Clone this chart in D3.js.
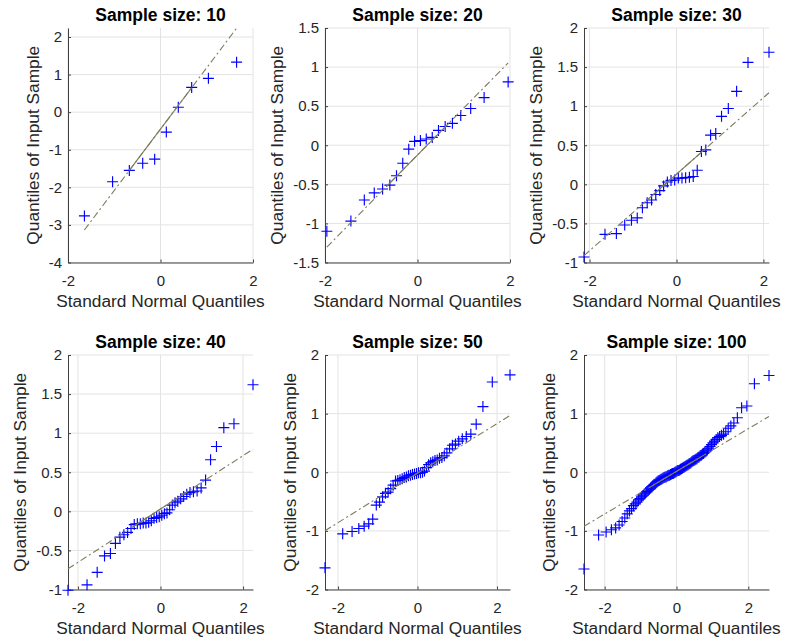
<!DOCTYPE html>
<html>
<head>
<meta charset="utf-8">
<script src="https://cdn.jsdelivr.net/npm/d3@7/dist/d3.min.js"></script>
<style>
  body { margin: 0; background: #ffffff; }
  svg { display: block; }
  text { font-family: "Liberation Sans", Arial, Helvetica, sans-serif; }
</style>
</head>
<body>
<svg id="chart" width="785" height="641"></svg>
<script>
// Normal probability (Q-Q) plots for samples of increasing size.
const sampleSizes = [10, 20, 30, 40, 50, 100];

// Theoretical standard normal quantiles (x) and sorted sample values (y)
const x10 = [-1.645, -1.036, -0.674, -0.385, -0.126, 0.126, 0.385, 0.674, 1.036, 1.645];
const y10 = [-2.76, -1.85, -1.55, -1.36, -1.25, -0.53, 0.13, 0.66, 0.90, 1.33];

const x20 = [-1.960, -1.440, -1.150, -0.935, -0.755, -0.598, -0.454, -0.319, -0.189, -0.063,
             0.063, 0.189, 0.319, 0.454, 0.598, 0.755, 0.935, 1.150, 1.440, 1.960];
const y20 = [-1.10, -0.97, -0.70, -0.61, -0.56, -0.51, -0.39, -0.23, -0.05, 0.05,
             0.06, 0.08, 0.10, 0.19, 0.24, 0.28, 0.38, 0.47, 0.61, 0.81];

const x30 = [-2.128, -1.645, -1.383, -1.192, -1.036, -0.903, -0.784, -0.674, -0.573, -0.477,
             -0.385, -0.297, -0.210, -0.126, -0.042, 0.042, 0.126, 0.210, 0.297, 0.385,
             0.477, 0.573, 0.674, 0.784, 0.903, 1.036, 1.192, 1.383, 1.645, 2.128];
const y30 = [-0.93, -0.64, -0.63, -0.52, -0.46, -0.43, -0.30, -0.235, -0.20, -0.13,
             -0.08, -0.02, 0.03, 0.05, 0.055, 0.08, 0.08, 0.085, 0.09, 0.10,
             0.18, 0.42, 0.44, 0.63, 0.65, 0.87, 0.97, 1.19, 1.56, 1.69];

const x40 = [-2.241, -1.780, -1.534, -1.356, -1.213, -1.092, -0.984, -0.887, -0.798, -0.714,
             -0.636, -0.561, -0.489, -0.419, -0.352, -0.287, -0.222, -0.157, -0.094, -0.031,
             0.031, 0.094, 0.157, 0.222, 0.287, 0.352, 0.419, 0.489, 0.561, 0.636,
             0.714, 0.798, 0.887, 0.984, 1.092, 1.213, 1.356, 1.534, 1.780, 2.241];
const y40 = [-1.01, -0.94, -0.78, -0.57, -0.54, -0.41, -0.33, -0.30, -0.27, -0.22,
             -0.17, -0.16, -0.16, -0.15, -0.15, -0.14, -0.12, -0.09, -0.08, -0.07,
             -0.05, -0.03, -0.02, 0.02, 0.08, 0.11, 0.13, 0.16, 0.19, 0.22,
             0.24, 0.25, 0.26, 0.30, 0.40, 0.66, 0.83, 1.07, 1.12, 1.62];

const x50 = [-2.326, -1.881, -1.645, -1.476, -1.341, -1.227, -1.126, -1.036, -0.954, -0.878,
             -0.806, -0.739, -0.674, -0.613, -0.553, -0.496, -0.440, -0.385, -0.332, -0.279,
             -0.228, -0.176, -0.126, -0.075, -0.025, 0.025, 0.075, 0.126, 0.176, 0.228,
             0.279, 0.332, 0.385, 0.440, 0.496, 0.553, 0.613, 0.674, 0.739, 0.806,
             0.878, 0.954, 1.036, 1.126, 1.227, 1.341, 1.476, 1.645, 1.881, 2.326];
const y50 = [-1.63, -1.05, -1.01, -0.96, -0.92, -0.88, -0.80, -0.56, -0.51, -0.42,
             -0.36, -0.34, -0.28, -0.22, -0.15, -0.14, -0.13, -0.11, -0.09, -0.08,
             -0.06, -0.05, -0.04, -0.03, -0.02, -0.01, -0.01, 0.00, 0.02, 0.08,
             0.13, 0.16, 0.18, 0.20, 0.21, 0.24, 0.25, 0.28, 0.33, 0.40,
             0.46, 0.48, 0.53, 0.57, 0.61, 0.65, 0.82, 1.12, 1.54, 1.66];

const x100 = [-2.576, -2.170, -1.960, -1.812, -1.695, -1.598, -1.514, -1.440, -1.372, -1.311,
              -1.254, -1.200, -1.150, -1.103, -1.058, -1.015, -0.974, -0.935, -0.896, -0.860,
              -0.824, -0.789, -0.755, -0.722, -0.690, -0.659, -0.628, -0.598, -0.568, -0.539,
              -0.510, -0.482, -0.454, -0.426, -0.399, -0.372, -0.345, -0.319, -0.292, -0.266,
              -0.240, -0.215, -0.189, -0.164, -0.138, -0.113, -0.088, -0.063, -0.038, -0.013,
              0.013, 0.038, 0.063, 0.088, 0.113, 0.138, 0.164, 0.189, 0.215, 0.240,
              0.266, 0.292, 0.319, 0.345, 0.372, 0.399, 0.426, 0.454, 0.482, 0.510,
              0.539, 0.568, 0.598, 0.628, 0.659, 0.690, 0.722, 0.755, 0.789, 0.824,
              0.860, 0.896, 0.935, 0.974, 1.015, 1.058, 1.103, 1.150, 1.200, 1.254,
              1.311, 1.372, 1.440, 1.514, 1.598, 1.695, 1.812, 1.960, 2.170, 2.576];
const y100 = [-1.65, -1.07, -1.02, -0.98, -0.95, -0.90, -0.84, -0.78, -0.71, -0.66,
              -0.62, -0.57, -0.54, -0.51, -0.47, -0.45, -0.42, -0.40, -0.37, -0.35,
              -0.33, -0.31, -0.29, -0.27, -0.25, -0.23, -0.21, -0.20, -0.18, -0.16,
              -0.15, -0.14, -0.13, -0.12, -0.11, -0.10, -0.09, -0.08, -0.08, -0.07,
              -0.06, -0.05, -0.05, -0.04, -0.03, -0.02, -0.02, -0.01, 0.00, 0.01,
              0.02, 0.03, 0.03, 0.04, 0.05, 0.06, 0.07, 0.08, 0.09, 0.10,
              0.11, 0.12, 0.13, 0.14, 0.15, 0.16, 0.18, 0.19, 0.20, 0.21,
              0.22, 0.23, 0.25, 0.26, 0.28, 0.29, 0.31, 0.32, 0.34, 0.36,
              0.38, 0.41, 0.44, 0.47, 0.50, 0.53, 0.56, 0.59, 0.61, 0.63,
              0.65, 0.69, 0.75, 0.79, 0.84, 0.93, 1.10, 1.13, 1.51, 1.65];

const xValues = [x10, x20, x30, x40, x50, x100];
const yValues = [y10, y20, y30, y40, y50, y100];

// Reference line through the first and third quartiles
const quartileX = [-0.674, 0.674];
const refLowY  = [-1.55, -0.53, -0.20, -0.20, -0.30, -0.23];
const refHighY = [0.65, 0.28, 0.46, 0.26, 0.27, 0.26];

// Axis limits and ticks
const xLimits = [[-2, 2], [-2, 2], [-2.128, 2.128], [-2.241, 2.241], [-2.326, 2.326], [-2.576, 2.576]];
const yLimits = [[-4, 2.24], [-1.5, 1.5], [-1, 2], [-1, 2], [-2, 2], [-2, 2]];
const xTickValues = [-2, 0, 2];
const yTickValues = [
  [-4, -3, -2, -1, 0, 1, 2],
  [-1.5, -1, -0.5, 0, 0.5, 1, 1.5],
  [-1, -0.5, 0, 0.5, 1, 1.5, 2],
  [-1, -0.5, 0, 0.5, 1, 1.5, 2],
  [-2, -1, 0, 1, 2],
  [-2, -1, 0, 1, 2]
];

const titleText = n => `Sample size: ${n}`;
const xLabelText = "Standard Normal Quantiles";
const yLabelText = "Quantiles of Input Sample";

// Layout of the 2x3 grid of axes
const colLeft = [68, 325, 584];
const rowTop = [28, 355];
const plotW = 185, plotH = 234.5;

const svg = d3.select("#chart");
const axisColor = "#404040";
const gridColor = "#e3e3e3";
const lineColor = "#7c7c5e";
const markerColor = "#0000ff";
const markerHalf = 5.5;

const fmt = v => (Math.abs(v) < 1e-9 ? "0" : String(v));

sampleSizes.forEach((n, i) => {
  const left = colLeft[i % 3];
  const top = rowTop[Math.floor(i / 3)];
  const g = svg.append("g").attr("transform", `translate(${left},${top})`);

  const x = d3.scaleLinear().domain(xLimits[i]).range([0, plotW]);
  const y = d3.scaleLinear().domain(yLimits[i]).range([plotH, 0]);

  // grid
  g.append("g").selectAll("line").data(xTickValues).join("line")
    .attr("x1", d => x(d)).attr("x2", d => x(d))
    .attr("y1", 0).attr("y2", plotH)
    .attr("stroke", gridColor).attr("stroke-width", 1);
  g.append("g").selectAll("line").data(yTickValues[i]).join("line")
    .attr("x1", 0).attr("x2", plotW)
    .attr("y1", d => y(d)).attr("y2", d => y(d))
    .attr("stroke", gridColor).attr("stroke-width", 1);

  // axes
  const xAxis = d3.axisBottom(x).tickValues(xTickValues).tickFormat(fmt)
    .tickSizeInner(-3).tickSizeOuter(0).tickPadding(13);
  const yAxis = d3.axisLeft(y).tickValues(yTickValues[i]).tickFormat(fmt)
    .tickSizeInner(-3).tickSizeOuter(0).tickPadding(6);

  const gx = g.append("g").attr("transform", `translate(0,${plotH})`).call(xAxis);
  const gy = g.append("g").call(yAxis);
  [gx, gy].forEach(a => {
    a.select(".domain").attr("stroke", axisColor).attr("stroke-width", 1);
    a.selectAll(".tick line").attr("stroke", axisColor);
    a.selectAll(".tick text").attr("fill", "#262626")
      .style("font-size", "15px")
      .style("font-family", '"Liberation Sans", Arial, Helvetica, sans-serif');
  });

  // reference line: dash-dot over the data range, solid between quartiles
  const slope = (refHighY[i] - refLowY[i]) / (quartileX[1] - quartileX[0]);
  const lineAt = v => refLowY[i] + slope * (v - quartileX[0]);
  const xs = xValues[i];
  const xMin = d3.min(xs), xMax = d3.max(xs);

  // sample points as '+' markers
  g.append("g").selectAll("path").data(xs.map((v, k) => [v, yValues[i][k]])).join("path")
    .attr("d", d => {
      const px = x(d[0]), py = y(d[1]);
      return `M${px - markerHalf},${py}H${px + markerHalf}M${px},${py - markerHalf}V${py + markerHalf}`;
    })
    .attr("stroke", markerColor).attr("stroke-width", 1.15).attr("fill", "none");

  g.append("line")
    .attr("x1", x(xMin)).attr("y1", y(lineAt(xMin)))
    .attr("x2", x(xMax)).attr("y2", y(lineAt(xMax)))
    .attr("stroke", lineColor).attr("stroke-width", 1.1)
    .attr("stroke-dasharray", "7,3,2,3");
  g.append("line")
    .attr("x1", x(quartileX[0])).attr("y1", y(refLowY[i]))
    .attr("x2", x(quartileX[1])).attr("y2", y(refHighY[i]))
    .attr("stroke", lineColor).attr("stroke-width", 1.1);

  // title and axis labels
  g.append("text")
    .attr("x", plotW / 2).attr("y", -7)
    .attr("text-anchor", "middle")
    .style("font-size", "17.5px").style("font-weight", "bold")
    .attr("fill", "#000")
    .text(titleText(n));

  g.append("text")
    .attr("x", plotW / 2).attr("y", plotH + 44)
    .attr("text-anchor", "middle")
    .style("font-size", "17.3px")
    .attr("fill", "#262626")
    .text(xLabelText);

  let maxW = 0;
  gy.selectAll(".tick text").each(function () {
    maxW = Math.max(maxW, this.getComputedTextLength());
  });
  const labelX = -(6 + maxW + 10);
  g.append("text")
    .attr("transform", `translate(${labelX},${plotH / 2}) rotate(-90)`)
    .attr("text-anchor", "middle")
    .style("font-size", "17.3px")
    .attr("fill", "#262626")
    .text(yLabelText);
});
</script>
</body>
</html>
